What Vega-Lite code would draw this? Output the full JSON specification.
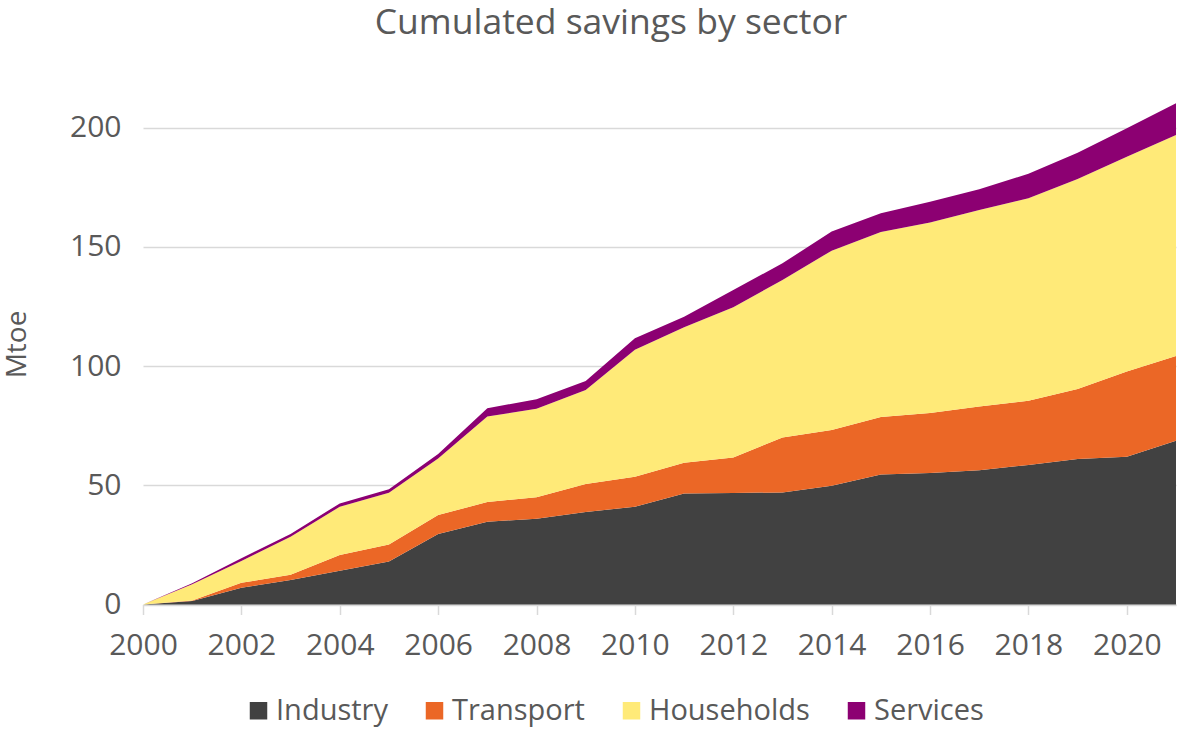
{
  "$schema": "https://vega.github.io/schema/vega-lite/v6.json",
  "width": 1033,
  "height": 505.5,
  "autosize": {"type": "none"},
  "padding": {"left": 143, "top": 99, "right": 2, "bottom": 126.5},
  "background": "white",
  "config": {
    "font": "Open Sans",
    "view": {"stroke": null}
  },
  "title": {
    "text": "Cumulated savings by sector",
    "fontSize": 35.5,
    "fontWeight": "normal",
    "color": "#595959",
    "anchor": "middle",
    "dx": -48.5,
    "offset": 58
  },
  "datasets": {
    "sectors": [
      {"sector": "Industry", "rank": 1},
      {"sector": "Transport", "rank": 2},
      {"sector": "Households", "rank": 3},
      {"sector": "Services", "rank": 4}
    ],
    "savings": [
      {"year": 2000, "sector": "Industry", "value": 0},
      {"year": 2001, "sector": "Industry", "value": 1.5},
      {"year": 2002, "sector": "Industry", "value": 7.0},
      {"year": 2003, "sector": "Industry", "value": 10.3},
      {"year": 2004, "sector": "Industry", "value": 14.2},
      {"year": 2005, "sector": "Industry", "value": 18.0},
      {"year": 2006, "sector": "Industry", "value": 29.6},
      {"year": 2007, "sector": "Industry", "value": 34.7},
      {"year": 2008, "sector": "Industry", "value": 36.0},
      {"year": 2009, "sector": "Industry", "value": 38.8},
      {"year": 2010, "sector": "Industry", "value": 41.0},
      {"year": 2011, "sector": "Industry", "value": 46.6},
      {"year": 2012, "sector": "Industry", "value": 46.8},
      {"year": 2013, "sector": "Industry", "value": 47.0},
      {"year": 2014, "sector": "Industry", "value": 49.8},
      {"year": 2015, "sector": "Industry", "value": 54.5},
      {"year": 2016, "sector": "Industry", "value": 55.2},
      {"year": 2017, "sector": "Industry", "value": 56.3},
      {"year": 2018, "sector": "Industry", "value": 58.5},
      {"year": 2019, "sector": "Industry", "value": 61.0},
      {"year": 2020, "sector": "Industry", "value": 62.0},
      {"year": 2021, "sector": "Industry", "value": 68.7},
      {"year": 2000, "sector": "Transport", "value": 0},
      {"year": 2001, "sector": "Transport", "value": 0.2},
      {"year": 2002, "sector": "Transport", "value": 2.1},
      {"year": 2003, "sector": "Transport", "value": 2.2},
      {"year": 2004, "sector": "Transport", "value": 6.6},
      {"year": 2005, "sector": "Transport", "value": 7.2},
      {"year": 2006, "sector": "Transport", "value": 7.9},
      {"year": 2007, "sector": "Transport", "value": 8.3},
      {"year": 2008, "sector": "Transport", "value": 9.0},
      {"year": 2009, "sector": "Transport", "value": 11.7},
      {"year": 2010, "sector": "Transport", "value": 12.6},
      {"year": 2011, "sector": "Transport", "value": 12.9},
      {"year": 2012, "sector": "Transport", "value": 14.9},
      {"year": 2013, "sector": "Transport", "value": 23.0},
      {"year": 2014, "sector": "Transport", "value": 23.4},
      {"year": 2015, "sector": "Transport", "value": 24.1},
      {"year": 2016, "sector": "Transport", "value": 25.1},
      {"year": 2017, "sector": "Transport", "value": 26.7},
      {"year": 2018, "sector": "Transport", "value": 27.0},
      {"year": 2019, "sector": "Transport", "value": 29.4},
      {"year": 2020, "sector": "Transport", "value": 35.7},
      {"year": 2021, "sector": "Transport", "value": 35.5},
      {"year": 2000, "sector": "Households", "value": 0},
      {"year": 2001, "sector": "Households", "value": 6.8},
      {"year": 2002, "sector": "Households", "value": 9.1},
      {"year": 2003, "sector": "Households", "value": 15.9},
      {"year": 2004, "sector": "Households", "value": 20.2},
      {"year": 2005, "sector": "Households", "value": 21.7},
      {"year": 2006, "sector": "Households", "value": 23.7},
      {"year": 2007, "sector": "Households", "value": 35.8},
      {"year": 2008, "sector": "Households", "value": 37.1},
      {"year": 2009, "sector": "Households", "value": 39.5},
      {"year": 2010, "sector": "Households", "value": 53.2},
      {"year": 2011, "sector": "Households", "value": 56.8},
      {"year": 2012, "sector": "Households", "value": 63.0},
      {"year": 2013, "sector": "Households", "value": 66.1},
      {"year": 2014, "sector": "Households", "value": 75.2},
      {"year": 2015, "sector": "Households", "value": 77.6},
      {"year": 2016, "sector": "Households", "value": 79.9},
      {"year": 2017, "sector": "Households", "value": 82.5},
      {"year": 2018, "sector": "Households", "value": 84.9},
      {"year": 2019, "sector": "Households", "value": 88.0},
      {"year": 2020, "sector": "Households", "value": 90.1},
      {"year": 2021, "sector": "Households", "value": 92.7},
      {"year": 2000, "sector": "Services", "value": 0},
      {"year": 2001, "sector": "Services", "value": 0.4},
      {"year": 2002, "sector": "Services", "value": 1.2},
      {"year": 2003, "sector": "Services", "value": 1.2},
      {"year": 2004, "sector": "Services", "value": 1.4},
      {"year": 2005, "sector": "Services", "value": 1.4},
      {"year": 2006, "sector": "Services", "value": 1.9},
      {"year": 2007, "sector": "Services", "value": 3.5},
      {"year": 2008, "sector": "Services", "value": 4.0},
      {"year": 2009, "sector": "Services", "value": 3.7},
      {"year": 2010, "sector": "Services", "value": 4.9},
      {"year": 2011, "sector": "Services", "value": 4.4},
      {"year": 2012, "sector": "Services", "value": 7.2},
      {"year": 2013, "sector": "Services", "value": 7.0},
      {"year": 2014, "sector": "Services", "value": 8.0},
      {"year": 2015, "sector": "Services", "value": 7.9},
      {"year": 2016, "sector": "Services", "value": 8.7},
      {"year": 2017, "sector": "Services", "value": 8.7},
      {"year": 2018, "sector": "Services", "value": 10.2},
      {"year": 2019, "sector": "Services", "value": 11.1},
      {"year": 2020, "sector": "Services", "value": 11.9},
      {"year": 2021, "sector": "Services", "value": 13.3}
    ]
  },
  "data": {"name": "savings"},
  "transform": [
    {
      "lookup": "sector",
      "from": {"data": {"name": "sectors"}, "key": "sector", "fields": ["rank"]}
    }
  ],
  "mark": {"type": "area", "interpolate": "linear"},
  "encoding": {
    "x": {
      "field": "year",
      "type": "quantitative",
      "scale": {"domain": [2000, 2021], "nice": false, "zero": false},
      "axis": {
        "title": null,
        "values": [2000, 2002, 2004, 2006, 2008, 2010, 2012, 2014, 2016, 2018, 2020],
        "format": "d",
        "grid": false,
        "labelFontSize": 30,
        "labelColor": "#595959",
        "labelPadding": 16,
        "tickColor": "#d9d9d9",
        "tickSize": 10,
        "tickWidth": 1.5,
        "domainColor": "#d9d9d9",
        "domainWidth": 1.5,
        "labelFlush": false
      }
    },
    "y": {
      "field": "value",
      "type": "quantitative",
      "stack": "zero",
      "scale": {"domain": [0, 212], "nice": false},
      "axis": {
        "title": "Mtoe",
        "titleFontSize": 28,
        "titleFontWeight": "normal",
        "titleColor": "#595959",
        "titleAngle": -90,
        "titleAlign": "center",
        "titleBaseline": "alphabetic",
        "titleX": -118,
        "titleY": 245,
        "values": [0, 50, 100, 150, 200],
        "labelFontSize": 30,
        "labelColor": "#595959",
        "labelPadding": 22,
        "domain": false,
        "ticks": false,
        "grid": true,
        "gridColor": "#d9d9d9",
        "gridWidth": 1.5
      }
    },
    "order": {"field": "rank", "type": "quantitative", "sort": "ascending"},
    "color": {
      "field": "sector",
      "type": "nominal",
      "sort": ["Industry", "Transport", "Households", "Services"],
      "scale": {
        "domain": ["Industry", "Transport", "Households", "Services"],
        "range": ["#414141", "#EB6726", "#FFEA78", "#8C0072"]
      },
      "legend": {
        "title": null,
        "orient": "none",
        "direction": "horizontal",
        "legendX": 101,
        "legendY": 597,
        "padding": 0,
        "symbolType": "square",
        "symbolSize": 306,
        "symbolStrokeWidth": 0,
        "labelFontSize": 29,
        "labelColor": "#595959",
        "labelOffset": 3,
        "columnPadding": 32,
        "labelLimit": 400
      }
    }
  }
}
